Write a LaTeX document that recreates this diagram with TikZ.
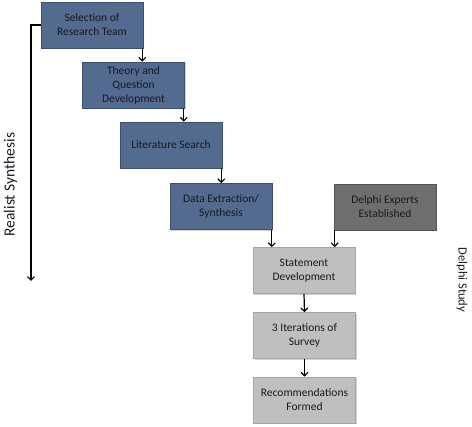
\documentclass[tikz,border=0pt]{standalone}
\usepackage{fontspec}
\setmainfont{Carlito}
\usetikzlibrary{arrows.meta,shadows}
\definecolor{blueface}{RGB}{83,107,143}
\definecolor{blueedge}{RGB}{60,80,110}
\definecolor{darkface}{RGB}{110,110,110}
\definecolor{darkedge}{RGB}{85,85,85}
\definecolor{lightface}{RGB}{191,191,191}
\definecolor{lightedge}{RGB}{165,165,165}
\definecolor{txt}{RGB}{25,25,35}
\tikzset{
  box/.style={minimum width=102pt, minimum height=46pt, inner sep=2pt, align=center,
    font=\fontsize{11.5}{14}\selectfont, text=txt, line width=0.6pt,
    drop shadow={shadow xshift=1.2pt, shadow yshift=-1.5pt, opacity=0.35, fill=gray}},
  bluebox/.style={box, fill=blueface, draw=blueedge},
  darkbox/.style={box, fill=darkface, draw=darkedge},
  lightbox/.style={box, fill=lightface, draw=lightedge},
  conn/.style={line width=1.2pt, -{Straight Barb[length=3.5pt,width=7pt,line width=1.2pt]}},
  sidelabel/.style={text=txt}
}
\begin{document}
\begin{tikzpicture}[x=1pt,y=-1pt]
\useasboundingbox (0,0) rectangle (472,427);
\node[bluebox] (b1) at (92,25) {Selection of\\Research Team};
\node[bluebox] (b2) at (133.5,85) {Theory and\\Question\\Development};
\node[bluebox] (b3) at (171,145) {Literature Search};
\node[bluebox] (b4) at (221,206.5) {Data Extraction/\\Synthesis};
\node[darkbox] (b5) at (385,207) {Delphi Experts\\Established};
\node[lightbox] (s1) at (304,270.5) {Statement\\Development};
\node[lightbox] (s2) at (304.5,335.5) {3 Iterations of\\Survey};
\node[lightbox] (s3) at (304.5,400) {Recommendations\\Formed};

\draw[conn] ([xshift=-1pt]b1.south east) -- ([xshift=-1pt]b1.south east |- b2.north);
\draw[conn] ([xshift=-1pt]b2.south east) -- ([xshift=-1pt]b2.south east |- b3.north);
\draw[conn] ([xshift=-1pt]b3.south east) -- ([xshift=-1pt]b3.south east |- b4.north);
\draw[conn] ([xshift=-0.5pt]b4.south east) -- ([xshift=-0.5pt]b4.south east |- s1.north);
\draw[conn] ([xshift=1pt]b5.south west) -- ([xshift=1pt]b5.south west |- s1.north);
\draw[conn] (s1.south) -- (s2.north);
\draw[conn] (s2.south) -- (s3.north);

\coordinate (lc) at (31,25);
\coordinate (le) at (31,281);
\draw[conn] (b1.west) -- (lc) -- (le);

\node[sidelabel, rotate=90, font=\fontsize{15.5}{18}\selectfont] (rs) at (10.5,184.5) {Realist Synthesis};
\node[sidelabel, rotate=-90, font=\fontsize{12.5}{15}\selectfont] (ds) at (462,280) {Delphi Study};
\end{tikzpicture}
\end{document}
